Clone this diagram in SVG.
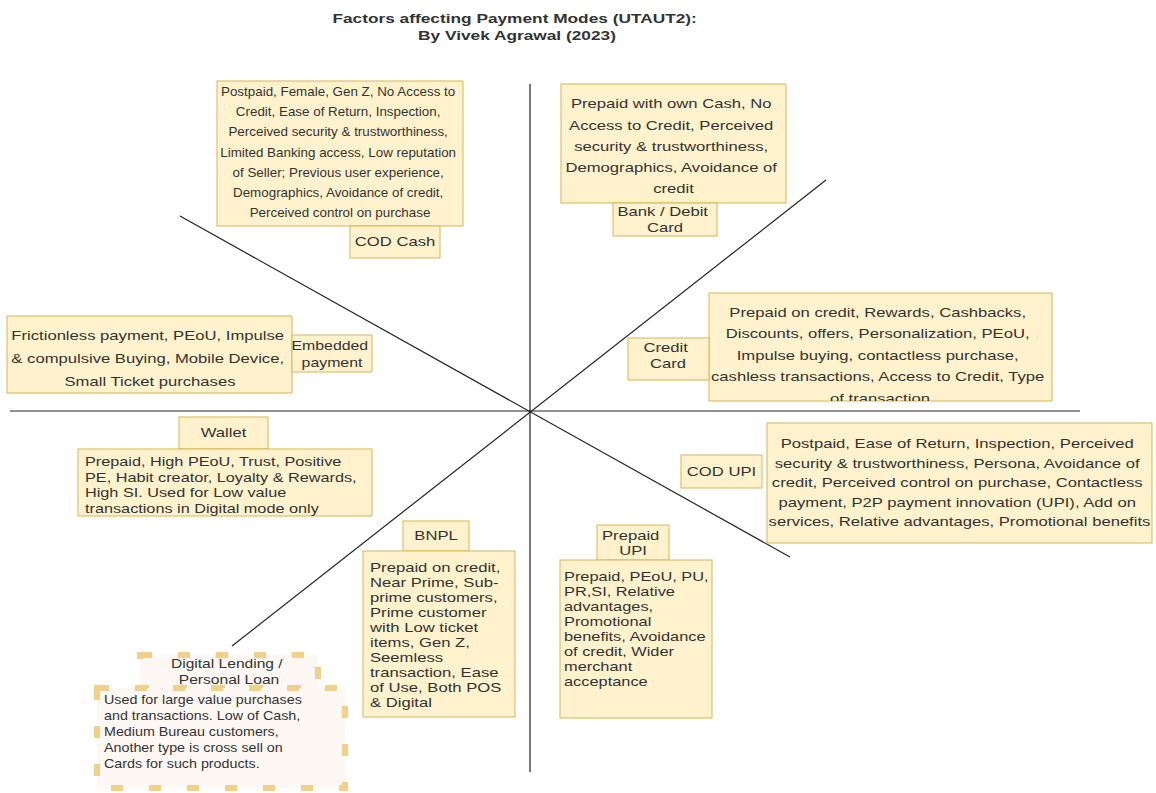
<svg xmlns="http://www.w3.org/2000/svg" width="1156" height="793" viewBox="0 0 1156 793">
  <style>
    .box { fill: #fff2cc; stroke: #d6b656; stroke-width: 1; }
    .dash { fill: #fdf8f3; stroke: #f1d187; stroke-width: 6; stroke-dasharray: 12 26; }
    .axis { stroke: #222; stroke-width: 1.2; fill: none; }
    text { font-family: "Liberation Sans", Arial, sans-serif; font-size: 13px; fill: #333; }
    .mid { text-anchor: middle; }
    .title { font-weight: bold; font-size: 13.5px; fill: #333; }
  </style>
  <defs>
    <clipPath id="clipCredit"><rect x="709" y="293" width="343" height="108"/></clipPath>
    <clipPath id="clipWallet"><rect x="78" y="449" width="294" height="67"/></clipPath>
  </defs>

  <rect width="1156" height="793" fill="#ffffff"/>

  <!-- title -->
  <g id="title">
    <text class="title mid" transform="translate(517,0) scale(1.28,1)">
      <tspan x="0" y="23">Factors affecting Payment Modes (UTAUT2):</tspan>
      <tspan x="0" y="40">By Vivek Agrawal (2023)</tspan>
    </text>
  </g>

  <!-- axes -->
  <g id="connectors">
    <line class="axis" x1="530" y1="84" x2="530" y2="772"/>
    <line class="axis" x1="10" y1="411" x2="1080" y2="411"/>
    <line class="axis" x1="180" y1="216" x2="790" y2="557"/>
    <line class="axis" x1="826" y1="180" x2="232" y2="646"/>
  </g>

  <!-- COD Cash -->
  <g id="cod-cash-factors">
    <rect class="box" x="217" y="81" width="246" height="145"/>
    <text class="mid" transform="translate(340,0) scale(1.03,1)">
      <tspan x="0" y="96">Postpaid, Female, Gen Z, No Access to</tspan>
      <tspan x="0" dy="20.2">Credit, Ease of Return, Inspection,</tspan>
      <tspan x="0" dy="20.2">Perceived security &amp; trustworthiness,</tspan>
      <tspan x="0" dy="20.2">Limited Banking access, Low reputation</tspan>
      <tspan x="0" dy="20.2">of Seller; Previous user experience,</tspan>
      <tspan x="0" dy="20.2">Demographics, Avoidance of credit,</tspan>
      <tspan x="0" dy="20.2">Perceived control on purchase</tspan>
    </text>
  </g>
  <g id="cod-cash">
    <rect class="box" x="350" y="226" width="90" height="32"/>
    <text class="mid" transform="translate(395,0) scale(1.28,1)"><tspan x="0" y="246.5">COD Cash</tspan></text>
  </g>

  <!-- Bank / Debit Card -->
  <g id="debit-card-factors">
    <rect class="box" x="561" y="84" width="225" height="119"/>
    <text class="mid" transform="translate(673.5,0) scale(1.28,1)">
      <tspan x="0" y="108.5">Prepaid with own Cash, No</tspan>
      <tspan x="0" dy="21.2">Access to Credit, Perceived</tspan>
      <tspan x="0" dy="21.2">security &amp; trustworthiness,</tspan>
      <tspan x="0" dy="21.2">Demographics, Avoidance of</tspan>
      <tspan x="0" dy="21.2">credit</tspan>
    </text>
  </g>
  <g id="debit-card">
    <rect class="box" x="613" y="203" width="104" height="33"/>
    <text class="mid" transform="translate(665,0) scale(1.28,1)">
      <tspan x="0" y="216.5">Bank / Debit</tspan>
      <tspan x="0" y="232.5">Card</tspan>
    </text>
  </g>

  <!-- Embedded payment -->
  <g id="embedded-factors">
    <rect class="box" x="7" y="316" width="285" height="77"/>
    <text class="mid" transform="translate(150,0) scale(1.28,1)">
      <tspan x="0" y="340.5">Frictionless payment, PEoU, Impulse</tspan>
      <tspan x="0" dy="23">&amp; compulsive Buying, Mobile Device,</tspan>
      <tspan x="0" dy="23">Small Ticket purchases</tspan>
    </text>
  </g>
  <g id="embedded">
    <rect class="box" x="292" y="335" width="80" height="37"/>
    <text class="mid" transform="translate(332,0) scale(1.22,1)">
      <tspan x="0" y="350.5">Embedded</tspan>
      <tspan x="0" y="367.5">payment</tspan>
    </text>
  </g>

  <!-- Credit Card -->
  <g id="credit-card-factors">
    <rect class="box" x="709" y="293" width="343" height="108"/>
    <g clip-path="url(#clipCredit)">
      <text class="mid" transform="translate(880,0) scale(1.28,1)">
        <tspan x="0" y="317">Prepaid on credit, Rewards, Cashbacks,</tspan>
        <tspan x="0" dy="21.5">Discounts, offers, Personalization, PEoU,</tspan>
        <tspan x="0" dy="21.5">Impulse buying, contactless purchase,</tspan>
        <tspan x="0" dy="21.5">cashless transactions, Access to Credit, Type</tspan>
        <tspan x="0" dy="21.5">of transaction</tspan>
      </text>
    </g>
  </g>
  <g id="credit-card">
    <rect class="box" x="628" y="338" width="81" height="42"/>
    <text class="mid" transform="translate(668,0) scale(1.28,1)">
      <tspan x="0" y="352.5">Credit</tspan>
      <tspan x="0" y="368.5">Card</tspan>
    </text>
  </g>

  <!-- Wallet -->
  <g id="wallet">
    <rect class="box" x="179" y="417" width="89" height="32"/>
    <text class="mid" transform="translate(223.5,0) scale(1.28,1)"><tspan x="0" y="437.5">Wallet</tspan></text>
  </g>
  <g id="wallet-factors">
    <rect class="box" x="78" y="449" width="294" height="67"/>
    <g clip-path="url(#clipWallet)">
      <text transform="translate(85,0) scale(1.25,1)">
        <tspan x="0" y="466.5">Prepaid, High PEoU, Trust, Positive</tspan>
        <tspan x="0" dy="15.5">PE, Habit creator, Loyalty &amp; Rewards,</tspan>
        <tspan x="0" dy="15.5">High SI. Used for Low value</tspan>
        <tspan x="0" dy="15.5">transactions in Digital mode only</tspan>
      </text>
    </g>
  </g>

  <!-- COD UPI -->
  <g id="cod-upi">
    <rect class="box" x="681" y="455" width="81" height="33"/>
    <text class="mid" transform="translate(721.5,0) scale(1.28,1)"><tspan x="0" y="476.5">COD UPI</tspan></text>
  </g>
  <g id="cod-upi-factors">
    <rect class="box" x="767" y="423" width="385" height="120"/>
    <text class="mid" transform="translate(959.5,0) scale(1.28,1)">
      <tspan x="0" y="448.5">Postpaid, Ease of Return, Inspection, Perceived</tspan>
      <tspan x="0" dy="19.5">security &amp; trustworthiness, Persona, Avoidance of</tspan>
      <tspan x="0" dy="19.5">credit, Perceived control on purchase, Contactless</tspan>
      <tspan x="0" dy="19.5">payment, P2P payment innovation (UPI), Add on</tspan>
      <tspan x="0" dy="19.5">services, Relative advantages, Promotional benefits</tspan>
    </text>
  </g>

  <!-- BNPL -->
  <g id="bnpl">
    <rect class="box" x="403" y="521" width="66" height="30"/>
    <text class="mid" transform="translate(436,0) scale(1.28,1)"><tspan x="0" y="540.5">BNPL</tspan></text>
  </g>
  <g id="bnpl-factors">
    <rect class="box" x="363" y="551" width="152" height="166"/>
    <text transform="translate(370,0) scale(1.28,1)">
      <tspan x="0" y="572.5">Prepaid on credit,</tspan>
      <tspan x="0" dy="14.9">Near Prime, Sub-</tspan>
      <tspan x="0" dy="14.9">prime customers,</tspan>
      <tspan x="0" dy="14.9">Prime customer</tspan>
      <tspan x="0" dy="14.9">with Low ticket</tspan>
      <tspan x="0" dy="14.9">items, Gen Z,</tspan>
      <tspan x="0" dy="14.9">Seemless</tspan>
      <tspan x="0" dy="14.9">transaction, Ease</tspan>
      <tspan x="0" dy="14.9">of Use, Both POS</tspan>
      <tspan x="0" dy="14.9">&amp; Digital</tspan>
    </text>
  </g>

  <!-- Prepaid UPI -->
  <g id="prepaid-upi">
    <rect class="box" x="597" y="525" width="72" height="35"/>
    <text class="mid" transform="translate(633,0) scale(1.28,1)">
      <tspan x="0" y="540">Prepaid</tspan>
      <tspan x="0" y="555">UPI</tspan>
    </text>
  </g>
  <g id="prepaid-upi-factors">
    <rect class="box" x="560" y="560" width="152" height="158"/>
    <text transform="translate(564,0) scale(1.26,1)">
      <tspan x="0" y="581.5">Prepaid, PEoU, PU,</tspan>
      <tspan x="0" dy="15">PR,SI, Relative</tspan>
      <tspan x="0" dy="15">advantages,</tspan>
      <tspan x="0" dy="15">Promotional</tspan>
      <tspan x="0" dy="15">benefits, Avoidance</tspan>
      <tspan x="0" dy="15">of credit, Wider</tspan>
      <tspan x="0" dy="15">merchant</tspan>
      <tspan x="0" dy="15">acceptance</tspan>
    </text>
  </g>

  <!-- Digital Lending / Personal Loan -->
  <g id="digital-lending">
    <rect class="dash" x="140" y="655" width="178" height="33"/>
    <text class="mid" transform="translate(229,0) scale(1.2,1)">
      <tspan x="0" y="668.5">Digital Lending  /</tspan>
      <tspan x="0" y="684.5">Personal Loan</tspan>
    </text>
  </g>
  <g id="digital-lending-factors">
    <rect class="dash" x="97" y="688" width="248" height="100"/>
    <text transform="translate(104,0) scale(1.1,1)">
      <tspan x="0" y="704.5">Used for large value purchases</tspan>
      <tspan x="0" dy="16">and transactions. Low of Cash,</tspan>
      <tspan x="0" dy="16">Medium Bureau customers,</tspan>
      <tspan x="0" dy="16">Another type is cross sell on</tspan>
      <tspan x="0" dy="16">Cards for such products.</tspan>
    </text>
  </g>
</svg>
